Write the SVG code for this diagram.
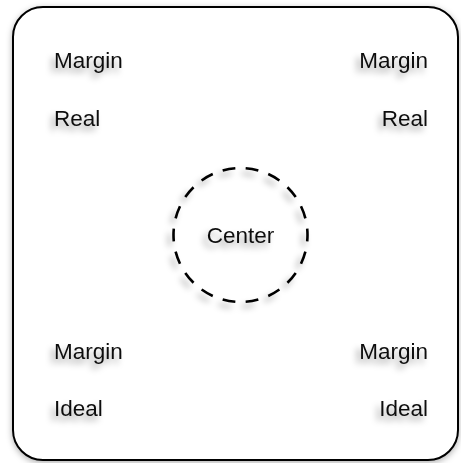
<svg xmlns="http://www.w3.org/2000/svg" width="461" height="463" viewBox="0 0 461 463">
<style>
.t{font-family:"Liberation Sans",Arial,sans-serif;font-size:22.5px;fill:#111;filter:url(#ts)}
.r{text-anchor:end}
</style>
<defs>
<filter id="ts" x="-30%" y="-50%" width="160%" height="200%">
<feDropShadow dx="-4" dy="5" stdDeviation="3" flood-color="#000" flood-opacity="0.35"/>
</filter>
<filter id="bs" x="-10%" y="-10%" width="120%" height="120%">
<feDropShadow dx="0" dy="2" stdDeviation="3" flood-color="#000" flood-opacity="0.3"/>
</filter>
</defs>
<rect x="1" y="1" width="459" height="461" fill="#fff"/>
<g id="frame">
<rect x="13" y="7" width="445" height="453" rx="30" ry="30" fill="#fff" stroke="#000" stroke-width="2" filter="url(#bs)"/>
</g>
<g id="center">
<circle cx="240.5" cy="235" r="67" fill="none" stroke="#000" stroke-width="2.6" pathLength="36" stroke-dasharray="1.1 0.9" stroke-dashoffset="0.55" filter="url(#ts)"/>
<text class="t" x="240.5" y="243" text-anchor="middle">Center</text>
</g>
<g id="tl">
<text class="t" x="54" y="68">Margin</text>
<text class="t" x="54" y="126">Real</text>
</g>
<g id="tr">
<text class="t r" x="428" y="68">Margin</text>
<text class="t r" x="428" y="126">Real</text>
</g>
<g id="bl">
<text class="t" x="54" y="359">Margin</text>
<text class="t" x="54" y="416">Ideal</text>
</g>
<g id="br">
<text class="t r" x="428" y="359">Margin</text>
<text class="t r" x="428" y="416">Ideal</text>
</g>
</svg>
